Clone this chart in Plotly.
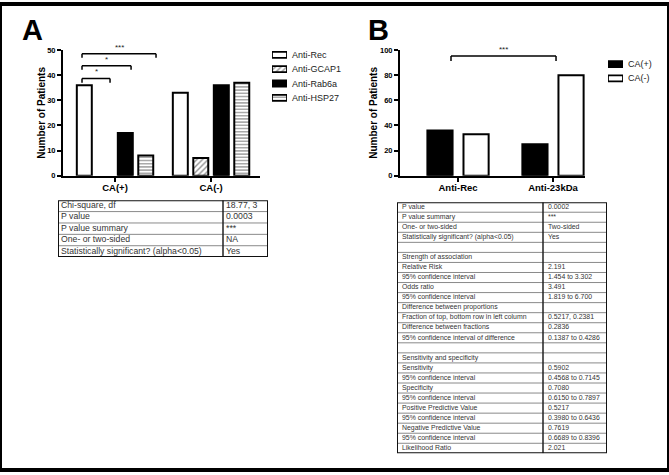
import plotly.graph_objects as go

W, H = 669, 475
FONT = "Liberation Sans, Arial, sans-serif"

# ---------------- data ----------------
a_groups = ["CA(+)", "CA(-)"]
a_series = ["Anti-Rec", "Anti-GCAP1", "Anti-Rab6a", "Anti-HSP27"]
a_rec = [36, 33]
a_gcap1 = [0, 7]
a_rab6a = [17, 36]
a_hsp27 = [8, 37]
a_yticks = [0, 10, 20, 30, 40, 50]

b_groups = ["Anti-Rec", "Anti-23kDa"]
b_series = ["CA(+)", "CA(-)"]
b_pos = [36, 25]
b_neg = [33, 80]
b_yticks = [0, 20, 40, 60, 80, 100]

# significance brackets: (label, x_left, x_right, y_top, y_drop)
a_sig = [("*", -0.344, -0.052, 38.7, 37.0),
         ("*", -0.344, 0.167, 43.8, 42.2),
         ("***", -0.344, 0.427, 48.6, 47.0)]
b_sig = [("***", -0.074, 1.032, 95.3, 91.4)]

tableA_labels = ["Chi-square, df", "P value", "P value summary",
                 "One- or two-sided", "Statistically significant? (alpha<0.05)"]
tableA_values = ["18.77, 3", "0.0003", "***", "NA", "Yes"]

tableB_labels = ["P value", "P value summary", "One- or two-sided",
                 "Statistically significant? (alpha<0.05)", "",
                 "Strength of association", "Relative Risk", "95% confidence interval",
                 "Odds ratio", "95% confidence interval", "Difference between proportions",
                 "Fraction of top, bottom row in left column", "Difference between fractions",
                 "95% confidence interval of difference", "",
                 "Sensitivity and specificity", "Sensitivity", "95% confidence interval",
                 "Specificity", "95% confidence interval", "Positive Predictive Value",
                 "95% confidence interval", "Negative Predictive Value",
                 "95% confidence interval", "Likelihood Ratio"]
tableB_values = ["0.0002", "***", "Two-sided", "Yes", "",
                 "", "2.191", "1.454 to 3.302",
                 "3.491", "1.819 to 6.700", "",
                 "0.5217, 0.2381", "0.2836",
                 "0.1387 to 0.4286", "",
                 "", "0.5902", "0.4568 to 0.7145",
                 "0.7080", "0.6150 to 0.7897", "0.5217",
                 "0.3980 to 0.6436", "0.7619",
                 "0.6689 to 0.8396", "2.021"]


def px(p):
    return p / W


def py(p):
    return 1 - p / H


fig = go.Figure()

# ---------------- panel A bars ----------------
a_vals = [a_rec, a_gcap1, a_rab6a, a_hsp27]
a_style = [
    dict(color="white"),
    dict(color="white", pattern=dict(shape="/", fgcolor="#222", bgcolor="white", size=4, solidity=0.35)),
    dict(color="black"),
    dict(color="white", pattern=dict(shape="-", fgcolor="#555", bgcolor="white", size=3.2, solidity=0.5)),
]
a_w = 0.156
a_centers = [-0.32, -0.107, 0.107, 0.32]
for name, vals, st, c in zip(a_series, a_vals, a_style, a_centers):
    lw = [2 if v > 0 else 0 for v in vals]
    fig.add_trace(go.Bar(x=a_groups, y=vals, name=name, width=a_w, offset=c - a_w / 2,
                         marker=dict(line=dict(color="black", width=lw), **st),
                         xaxis="x", yaxis="y", showlegend=False))

# ---------------- panel B bars ----------------
b_w = 0.265
b_centers = [-0.19, 0.19]
b_style = [dict(color="black"), dict(color="white")]
for name, vals, st, c in zip(b_series, [b_pos, b_neg], b_style, b_centers):
    fig.add_trace(go.Bar(x=b_groups, y=vals, name=name, width=b_w, offset=c - b_w / 2,
                         marker=dict(line=dict(color="black", width=2), **st),
                         xaxis="x2", yaxis="y2", showlegend=False))

# ---------------- legend swatches (drawn as bars on small axes) ----------------
for name, st in zip(a_series, a_style):
    fig.add_trace(go.Bar(x=[1], y=[name], orientation="h", width=0.42,
                         marker=dict(line=dict(color="black", width=1.8), **st),
                         xaxis="x3", yaxis="y3", showlegend=False, hoverinfo="skip"))
for name, st in zip(b_series, b_style):
    fig.add_trace(go.Bar(x=[1], y=[name], orientation="h", width=0.42,
                         marker=dict(line=dict(color="black", width=1.8), **st),
                         xaxis="x4", yaxis="y4", showlegend=False, hoverinfo="skip"))

# ---------------- tables (text on hidden axes) ----------------
shapes = []


def add_table(labels, values, colw, xa, ya, fsize, pad):
    n = len(labels)
    rows = list(range(n))
    total = sum(colw)
    fig.add_trace(go.Scatter(x=[pad] * n, y=rows, text=labels, mode="text",
                             textposition="middle right", cliponaxis=False,
                             textfont=dict(family=FONT, size=fsize, color="#333"),
                             xaxis=xa, yaxis=ya, showlegend=False, hoverinfo="skip"))
    fig.add_trace(go.Scatter(x=[colw[0] + pad] * n, y=rows, text=values, mode="text",
                             textposition="middle right", cliponaxis=False,
                             textfont=dict(family=FONT, size=fsize, color="#333"),
                             xaxis=xa, yaxis=ya, showlegend=False, hoverinfo="skip"))
    for i in range(1, n):
        shapes.append(dict(type="line", xref=xa, yref=ya, x0=0, x1=total, y0=i - 0.5, y1=i - 0.5,
                           line=dict(color="#8a8a8a", width=1)))
    shapes.append(dict(type="line", xref=xa, yref=ya, x0=colw[0], x1=colw[0], y0=-0.5, y1=n - 0.5,
                       line=dict(color="#222", width=1.5)))
    shapes.append(dict(type="rect", xref=xa, yref=ya, x0=0, x1=total, y0=-0.5, y1=n - 0.5,
                       line=dict(color="#111", width=2)))


add_table(tableA_labels, tableA_values, [165, 45], "x5", "y5", 8.7, 3)
add_table(tableB_labels, tableB_values, [146, 64], "x6", "y6", 6.9, 5)

# ---------------- brackets ----------------
annotations = []


def add_brackets(sig, xr, yr):
    for lab, x0, x1, yt, yd in sig:
        shapes.append(dict(type="line", xref=xr, yref=yr, x0=x0, x1=x1, y0=yt, y1=yt,
                           line=dict(color="black", width=1.5)))
        for xx in (x0, x1):
            shapes.append(dict(type="line", xref=xr, yref=yr, x0=xx, x1=xx, y0=yt, y1=yd,
                               line=dict(color="black", width=1.5)))
        annotations.append(dict(x=(x0 + x1) / 2, y=yt, xref=xr, yref=yr, text=lab,
                                showarrow=False, xanchor="center", yanchor="bottom",
                                font=dict(family=FONT, size=8, color="#222")))


add_brackets(a_sig, "x", "y")
add_brackets(b_sig, "x2", "y2")

# panel letters
annotations.append(dict(x=px(32), y=py(26), xref="paper", yref="paper", text="A", showarrow=False,
                        xanchor="center", yanchor="middle",
                        font=dict(family=FONT, size=29, color="black", weight="bold")))
annotations.append(dict(x=px(378), y=py(26), xref="paper", yref="paper", text="B", showarrow=False,
                        xanchor="center", yanchor="middle",
                        font=dict(family=FONT, size=29, color="black", weight="bold")))

# outer frame
shapes.append(dict(type="rect", xref="paper", yref="paper", x0=0, x1=1, y0=0, y1=1,
                   line=dict(color="black", width=4)))

tickfont_y = dict(family=FONT, size=7.5, color="black", weight="bold")
tickfont_x = dict(family=FONT, size=9.5, color="black", weight="bold")
titlefont = dict(family=FONT, size=10, color="black", weight="bold")

ydom = [py(175), py(47)]
common_y = dict(showgrid=False, zeroline=False, showline=True, linecolor="black", linewidth=2,
                ticks="outside", ticklen=4, tickwidth=1.5, tickcolor="black", tickfont=tickfont_y,
                domain=ydom)
common_x = dict(showgrid=False, zeroline=False, showline=True, linecolor="black", linewidth=2,
                ticks="outside", ticklen=4, tickwidth=1.5, tickcolor="black", tickfont=tickfont_x,
                type="category", ticklabelstandoff=-2)

hidden = dict(visible=False, showgrid=False, zeroline=False, fixedrange=True)

fig.update_layout(
    width=W, height=H, margin=dict(l=0, r=0, t=0, b=0),
    paper_bgcolor="white", plot_bgcolor="rgba(0,0,0,0)",
    barmode="overlay",
    xaxis=dict(common_x, domain=[px(63), px(260)], range=[-0.542, 1.51], anchor="y"),
    yaxis=dict(common_y, range=[0, 50], tickvals=a_yticks, anchor="x",
               title=dict(text="Number of Patients", font=titlefont, standoff=0)),
    xaxis2=dict(common_x, domain=[px(400), px(585)], range=[-0.611, 1.337], anchor="y2"),
    yaxis2=dict(common_y, range=[0, 100], tickvals=b_yticks, anchor="x2",
                title=dict(text="Number of Patients", font=titlefont, standoff=0)),
    xaxis3=dict(hidden, domain=[px(272), px(287)], range=[0, 1], anchor="y3"),
    yaxis3=dict(domain=[py(103), py(44.5)], anchor="x3", side="right", type="category",
                categoryorder="array", categoryarray=a_series, range=[3.5, -0.5],
                showgrid=False, zeroline=False, showline=False, ticks="", ticklabelstandoff=4,
                tickfont=dict(family=FONT, size=9, color="#222"), fixedrange=True),
    xaxis4=dict(hidden, domain=[px(608), px(623)], range=[0, 1], anchor="y4"),
    yaxis4=dict(domain=[py(83), py(54)], anchor="x4", side="right", type="category",
                categoryorder="array", categoryarray=b_series, range=[1.5, -0.5],
                showgrid=False, zeroline=False, showline=False, ticks="", ticklabelstandoff=4,
                tickfont=dict(family=FONT, size=9, color="#222"), fixedrange=True),
    xaxis5=dict(hidden, domain=[px(58), px(268)], range=[0, 210], anchor="y5"),
    yaxis5=dict(hidden, domain=[py(258), py(200)], range=[len(tableA_labels) - 0.5, -0.5], anchor="x5"),
    xaxis6=dict(hidden, domain=[px(397), px(607)], range=[0, 210], anchor="y6"),
    yaxis6=dict(hidden, domain=[py(458), py(202)], range=[len(tableB_labels) - 0.5, -0.5], anchor="x6"),
    shapes=shapes,
    annotations=annotations,
)

fig.write_html("out.html", config={"displayModeBar": False},
               post_script="document.body.style.margin='0';")
